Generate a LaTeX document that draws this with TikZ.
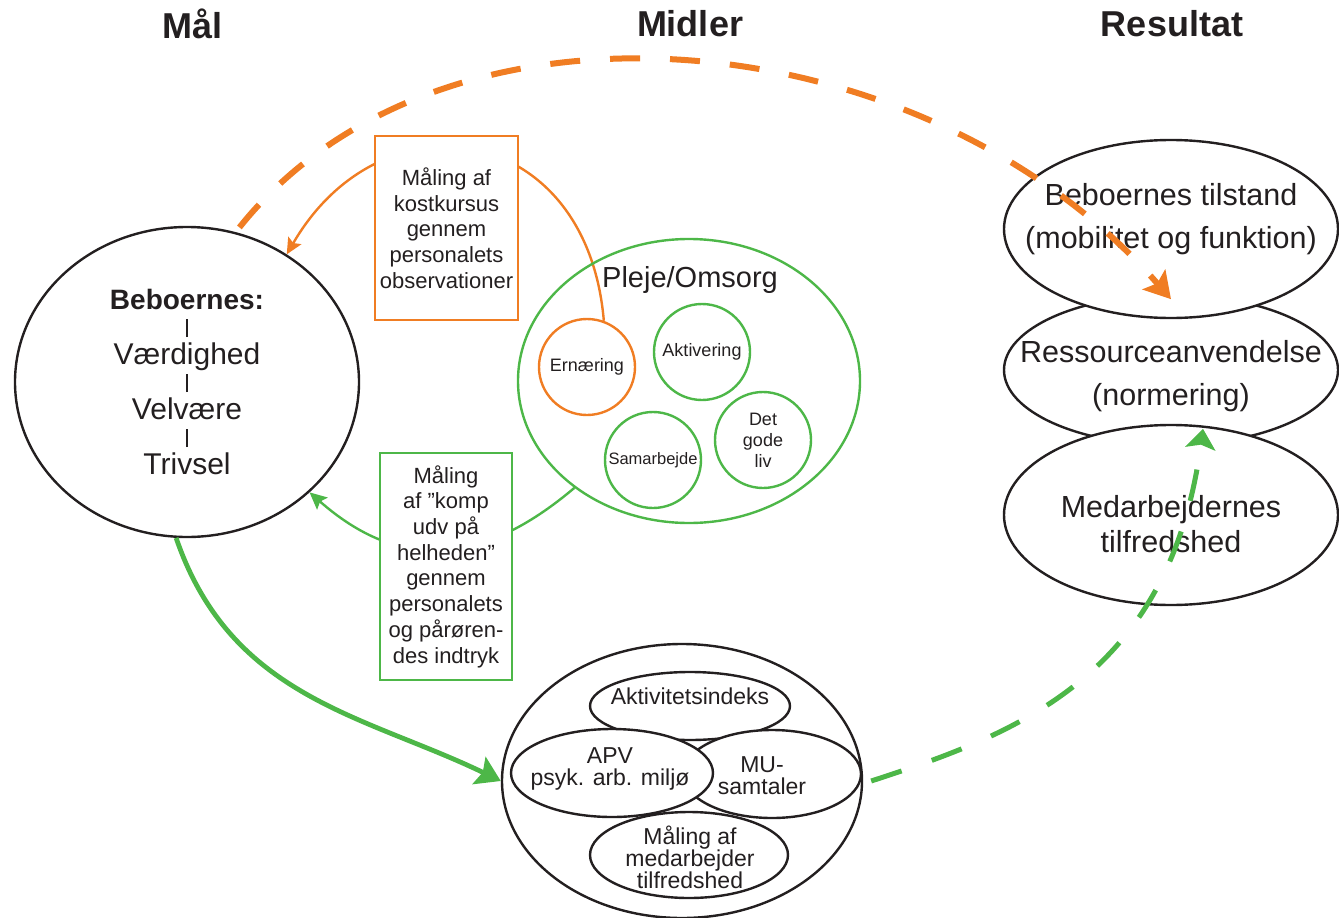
\documentclass[tikz,border=0pt]{standalone}
\usepackage{fontspec}
\setmainfont{Liberation Sans}
\usepackage{tikz}
\usetikzlibrary{positioning,shapes,arrows.meta,backgrounds}
\definecolor{orng}{RGB}{240,125,35}
\definecolor{grn}{RGB}{77,183,72}
\definecolor{ink}{RGB}{35,31,32}

\begin{document}
\begin{tikzpicture}[x = 1pt, y = -1pt,
	every node/.style = {inner sep = 0pt, align = center, text = ink},
	head/.style = {font = \fontsize{36}{40}\selectfont\bfseries},
	oval/.style = {ellipse, draw = ink, line width = 2.4pt},
	dot/.style = {circle, line width = 2.4pt, minimum size = 96pt, font = \fontsize{18}{21}\selectfont},
	note/.style = {rectangle, fill = white, line width = 2.4pt, font = \fontsize{22}{25.7}\selectfont},
	big/.style = {font = \fontsize{30.5}{43}\selectfont},
	small/.style = {font = \fontsize{23}{22}\selectfont}]

\useasboundingbox (0, 0) rectangle (1339, 918);

\node[head] (HMaal) at (193, 24) {Mål};
\node[head] (HMidler) at (690, 24) {Midler};
\node[head] (HRes) at (1172, 24) {Resultat};

\node[oval, fill = white, minimum width = 344pt, minimum height = 310pt, font = \fontsize{30}{27.5}\selectfont] (Maal) at (187, 382)
	{{\fontsize{28}{27.5}\selectfont\bfseries Beboernes:}\\\rule{2pt}{18pt}\\Værdighed\\\rule{2pt}{18pt}\\Velvære\\\rule{2pt}{18pt}\\Trivsel};

\node[ellipse, draw = grn, line width = 2.4pt, minimum width = 342pt, minimum height = 284pt] (Pleje) at (689, 381) {};
\node[font = \fontsize{29}{30}\selectfont] (PlejeTxt) at (690, 280) {Pleje/Omsorg};
\node[dot, draw = orng] (Ernaering) at (587, 367) {Ernæring};
\node[dot, draw = grn] (Aktivering) at (702, 352) {Aktivering};
\node[dot, draw = grn, font = \fontsize{16.5}{20}\selectfont] (Samarbejde) at (653, 460) {Samarbejde};
\node[dot, draw = grn] (Godeliv) at (763, 440) {Det\\gode\\liv};

\node[note, draw = orng, minimum width = 143pt, minimum height = 184pt] (Kost) at (446.5, 228)
	{Måling af\\kostkursus\\gennem\\personalets\\observationer};
\node[note, draw = grn, minimum width = 132pt, minimum height = 227pt] (Komp) at (446, 566.5)
	{Måling\\af ”komp\\udv på\\helheden”\\gennem\\personalets\\og pårøren-\\des indtryk};

\node[oval, fill = white, minimum width = 334pt, minimum height = 150pt] (Ressource) at (1171, 370) {};
\node[oval, fill = white, minimum width = 334pt, minimum height = 178pt] (Tilstand) at (1171, 229) {};
\node[oval, fill = white, minimum width = 334pt, minimum height = 180pt] (Medarb) at (1171, 515) {};
\node[big] (TilstandTxt) at (1171, 219) {Beboernes tilstand\\(mobilitet og funktion)};
\node[big] (RessourceTxt) at (1171, 376) {Ressourceanvendelse\\(normering)};
\node[big, font = \fontsize{30.5}{35}\selectfont] (MedarbTxt) at (1171, 524) {Medarbejdernes\\tilfredshed};

\node[oval, minimum width = 360pt, minimum height = 274pt] (Bund) at (682, 781) {};
\node[oval, fill = white, minimum width = 200pt, minimum height = 68pt] (Akt) at (690, 706) {};
\node[oval, fill = white, minimum width = 198pt, minimum height = 86pt] (MaalMed) at (689, 855) {};
\node[oval, fill = white, minimum width = 178pt, minimum height = 88pt] (MU) at (772, 774) {};
\node[oval, fill = white, minimum width = 202pt, minimum height = 88pt] (APV) at (612, 773) {};
\node[small] (AktTxt) at (690, 696) {Aktivitetsindeks};
\node[small] (APVTxt) at (610, 769) {APV\\psyk. arb. miljø};
\node[small] (MUTxt) at (762, 776) {MU-\\samtaler};
\node[small] (MaalMedTxt) at (690, 857) {Måling af\\medarbejder\\tilfredshed};

\coordinate (Tip1) at ([yshift = 20pt]Tilstand.south);
\coordinate (Tip2) at ([xshift = 32pt, yshift = -5pt]Medarb.north);

\begin{scope}[on background layer]
	\draw[orng, line width = 2.4pt, -{Stealth[length = 16pt, width = 15pt, inset = 3pt]}]
		(Ernaering.70) .. controls (587, 122) and (382, 90) .. (Maal.52);
	\draw[grn, line width = 2.4pt, -{Stealth[length = 17pt, width = 16pt, inset = 3pt]}]
		(Pleje.223) .. controls (481, 567) and (399, 571) .. (Maal.-42);
\end{scope}

\draw[grn, line width = 4.8pt, -{Stealth[length = 24pt, width = 30pt, inset = 4pt]}]
	(Maal.266) .. controls (231, 698) and (364, 715) .. (Bund.west);

\draw[orng, line width = 6pt, dash pattern = on 30pt off 30pt, shorten <= 6pt, -{Stealth[length = 26pt, width = 30pt, inset = 5pt]}]
	(Maal.72) .. controls (443, -28) and (926, 18) .. (Tip1);
\draw[grn, line width = 5pt, dash pattern = on 32pt off 32pt, -{Stealth[length = 20pt, width = 30pt, inset = 4pt]}]
	([xshift = 8pt]Bund.east) .. controls (1016, 734) and (1170, 677) .. (Tip2);

\end{tikzpicture}
\end{document}
